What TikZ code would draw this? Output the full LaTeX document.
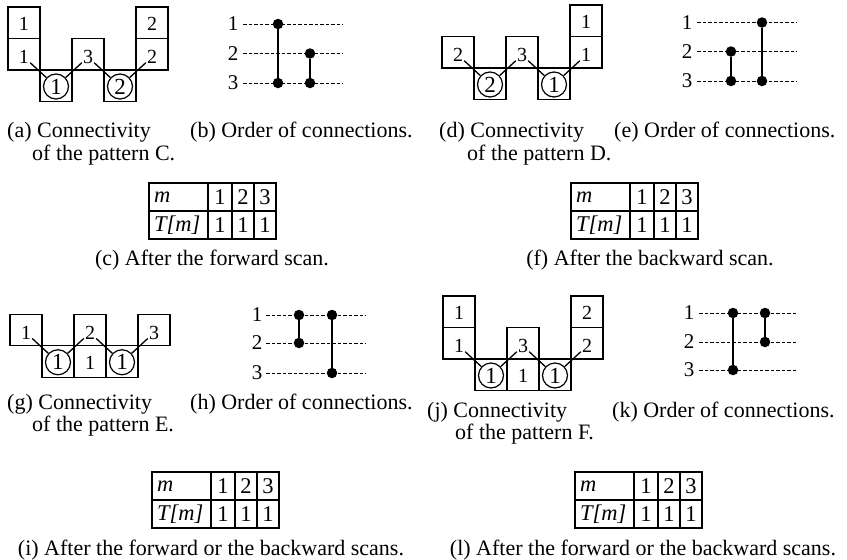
\documentclass[tikz,border=0pt]{standalone}
\usepackage{fontspec}
\setmainfont{Liberation Serif}
\begin{document}
\begin{tikzpicture}[x=1pt,y=-1pt,
  cellbox/.style={draw,line width=1.2pt,minimum width=32pt,minimum height=31.5pt,inner sep=0pt},
  celltext/.style={inner sep=1.0pt,font=\fontsize{20}{20}\selectfont},
  circ/.style={draw,circle,line width=1.2pt,minimum size=25pt,inner sep=0pt,font=\fontsize{23}{23}\selectfont},
  link/.style={line width=1.3pt},
  lab/.style={font=\fontsize{21}{21}\selectfont,inner sep=0pt},
  bigdot/.style={circle,fill,inner sep=0pt,minimum size=10.5pt},
  dline/.style={line width=0.8pt,dash pattern=on 3.5pt off 2pt},
  vline/.style={line width=1.9pt},
  captext/.style={font=\fontsize{22}{22}\selectfont,inner sep=0pt,anchor=base west},
  captextc/.style={font=\fontsize{22}{22}\selectfont,inner sep=0pt,anchor=base},
  tabline/.style={line width=1.2pt},
  tabtext/.style={font=\fontsize{22.5}{22.5}\selectfont,inner sep=0pt},
  scantable/.pic={
    \draw[tabline] (0,0) rectangle (127,56);
    \draw[tabline] (0,28) -- (127,28);
    \draw[tabline] (59,0) -- (59,56) (83,0) -- (83,56) (105,0) -- (105,56);
    \node[tabtext,anchor=west] (-m) at (5,14) {\textit{m}};
    \node[tabtext,anchor=west] (-T) at (5,42) {\textit{T[m]}};
    \node[tabtext] (-h1) at (71,14) {1};
    \node[tabtext] (-h2) at (94,14) {2};
    \node[tabtext] (-h3) at (116,14) {3};
    \node[tabtext] (-v1) at (71,42) {1};
    \node[tabtext] (-v2) at (94,42) {1};
    \node[tabtext] (-v3) at (116,42) {1};
  }
]
\useasboundingbox (0,0) rectangle (847,560);

% ---------- (a) pattern C ----------
\node[cellbox] (a-c0r0) at (24,22.75) {};
\node[cellbox] (a-c0r1) at (24,54.25) {};
\node[cellbox] (a-c1r2) at (56,85.75) {};
\node[cellbox] (a-c2r1) at (88,54.25) {};
\node[cellbox] (a-c3r2) at (120,85.75) {};
\node[cellbox] (a-c4r0) at (152,22.75) {};
\node[cellbox] (a-c4r1) at (152,54.25) {};
\node[celltext] (a-t00) at (24,24) {1};
\node[celltext] (a-t01) at (24,57) {1};
\node[celltext] (a-t21) at (88,57) {3};
\node[celltext] (a-t40) at (152,24) {2};
\node[celltext] (a-t41) at (152,57) {2};
\node[circ] (a-o1) at (56,86.5) {1};
\node[circ] (a-o3) at (120,86.5) {2};
\draw[link] (a-t01) -- (a-o1);
\draw[link] (a-t21) -- (a-o1);
\draw[link] (a-t21) -- (a-o3);
\draw[link] (a-t41) -- (a-o3);

% ---------- (d) pattern D ----------
\begin{scope}[shift={(434,-2)}]
\node[cellbox] (d-c0r1) at (24,54.25) {};
\node[cellbox] (d-c1r2) at (56,85.75) {};
\node[cellbox] (d-c2r1) at (88,54.25) {};
\node[cellbox] (d-c3r2) at (120,85.75) {};
\node[cellbox] (d-c4r0) at (152,22.75) {};
\node[cellbox] (d-c4r1) at (152,54.25) {};
\node[celltext] (d-t01) at (24,57) {2};
\node[celltext] (d-t21) at (88,57) {3};
\node[celltext] (d-t40) at (152,24) {1};
\node[celltext] (d-t41) at (152,57) {1};
\node[circ] (d-o1) at (56,86.5) {2};
\node[circ] (d-o3) at (120,86.5) {1};
\draw[link] (d-t01) -- (d-o1);
\draw[link] (d-t21) -- (d-o1);
\draw[link] (d-t21) -- (d-o3);
\draw[link] (d-t41) -- (d-o3);
\end{scope}

% ---------- (g) pattern E ----------
\begin{scope}[shift={(2,275.75)}]
\node[cellbox] (g-c0r1) at (24,54.25) {};
\node[cellbox] (g-c1r2) at (56,85.75) {};
\node[cellbox] (g-c2r1) at (88,54.25) {};
\node[cellbox] (g-c2r2) at (88,85.75) {};
\node[cellbox] (g-c3r2) at (120,85.75) {};
\node[cellbox] (g-c4r1) at (152,54.25) {};
\node[celltext] (g-t01) at (24,57) {1};
\node[celltext] (g-t21) at (88,57) {2};
\node[celltext] (g-t22) at (88,87) {1};
\node[celltext] (g-t41) at (152,57) {3};
\node[circ] (g-o1) at (56,86.5) {1};
\node[circ] (g-o3) at (120,86.5) {1};
\draw[link] (g-t01) -- (g-o1);
\draw[link] (g-t21) -- (g-o1);
\draw[link] (g-t21) -- (g-o3);
\draw[link] (g-t41) -- (g-o3);
\end{scope}

% ---------- (j) pattern F ----------
\begin{scope}[shift={(435,289)}]
\node[cellbox] (j-c0r0) at (24,22.75) {};
\node[cellbox] (j-c0r1) at (24,54.25) {};
\node[cellbox] (j-c1r2) at (56,85.75) {};
\node[cellbox] (j-c2r1) at (88,54.25) {};
\node[cellbox] (j-c2r2) at (88,85.75) {};
\node[cellbox] (j-c3r2) at (120,85.75) {};
\node[cellbox] (j-c4r0) at (152,22.75) {};
\node[cellbox] (j-c4r1) at (152,54.25) {};
\node[celltext] (j-t00) at (24,24) {1};
\node[celltext] (j-t01) at (24,57) {1};
\node[celltext] (j-t21) at (88,57) {3};
\node[celltext] (j-t22) at (88,87) {1};
\node[celltext] (j-t40) at (152,24) {2};
\node[celltext] (j-t41) at (152,57) {2};
\node[circ] (j-o1) at (56,86.5) {1};
\node[circ] (j-o3) at (120,86.5) {1};
\draw[link] (j-t01) -- (j-o1);
\draw[link] (j-t21) -- (j-o1);
\draw[link] (j-t21) -- (j-o3);
\draw[link] (j-t41) -- (j-o3);
\end{scope}

% ---------- (b) order ----------
\node[lab] (b-l1) at (233,24) {1};
\node[lab] (b-l2) at (233,53.5) {2};
\node[lab] (b-l3) at (233,83) {3};
\coordinate (b-s1) at (243,24);   \coordinate (b-e1) at (343,24);
\coordinate (b-s2) at (243,53.5); \coordinate (b-e2) at (343,53.5);
\coordinate (b-s3) at (243,83);   \coordinate (b-e3) at (343,83);
\draw[dline] (b-s1) -- (b-e1);
\draw[dline] (b-s2) -- (b-e2);
\draw[dline] (b-s3) -- (b-e3);
\node[bigdot] (b-p1) at (278,24) {};
\node[bigdot] (b-p2) at (278,83) {};
\node[bigdot] (b-q1) at (310,53.5) {};
\node[bigdot] (b-q2) at (310,83) {};
\draw[vline] (b-p1) -- (b-p2);
\draw[vline] (b-q1) -- (b-q2);

% ---------- (e) order ----------
\node[lab] (e-l1) at (687,22.5) {1};
\node[lab] (e-l2) at (687,51.5) {2};
\node[lab] (e-l3) at (687,81) {3};
\coordinate (e-s1) at (697,22.5); \coordinate (e-e1) at (797,22.5);
\coordinate (e-s2) at (697,51.5); \coordinate (e-e2) at (797,51.5);
\coordinate (e-s3) at (697,81);   \coordinate (e-e3) at (797,81);
\draw[dline] (e-s1) -- (e-e1);
\draw[dline] (e-s2) -- (e-e2);
\draw[dline] (e-s3) -- (e-e3);
\node[bigdot] (e-p1) at (731,51.5) {};
\node[bigdot] (e-p2) at (731,81) {};
\node[bigdot] (e-q1) at (762,22.5) {};
\node[bigdot] (e-q2) at (762,81) {};
\draw[vline] (e-p1) -- (e-p2);
\draw[vline] (e-q1) -- (e-q2);

% ---------- (h) order ----------
\node[lab] (h-l1) at (257,315) {1};
\node[lab] (h-l2) at (257,343) {2};
\node[lab] (h-l3) at (257,373) {3};
\coordinate (h-s1) at (266,315); \coordinate (h-e1) at (366,315);
\coordinate (h-s2) at (266,343); \coordinate (h-e2) at (366,343);
\coordinate (h-s3) at (266,373); \coordinate (h-e3) at (366,373);
\draw[dline] (h-s1) -- (h-e1);
\draw[dline] (h-s2) -- (h-e2);
\draw[dline] (h-s3) -- (h-e3);
\node[bigdot] (h-p1) at (299,315) {};
\node[bigdot] (h-p2) at (299,343) {};
\node[bigdot] (h-q1) at (332,315) {};
\node[bigdot] (h-q2) at (332,373) {};
\draw[vline] (h-p1) -- (h-p2);
\draw[vline] (h-q1) -- (h-q2);

% ---------- (k) order ----------
\node[lab] (k-l1) at (689,313) {1};
\node[lab] (k-l2) at (689,342) {2};
\node[lab] (k-l3) at (689,370) {3};
\coordinate (k-s1) at (699,313); \coordinate (k-e1) at (798,313);
\coordinate (k-s2) at (699,342); \coordinate (k-e2) at (798,342);
\coordinate (k-s3) at (699,370); \coordinate (k-e3) at (798,370);
\draw[dline] (k-s1) -- (k-e1);
\draw[dline] (k-s2) -- (k-e2);
\draw[dline] (k-s3) -- (k-e3);
\node[bigdot] (k-p1) at (733,313) {};
\node[bigdot] (k-p2) at (733,370) {};
\node[bigdot] (k-q1) at (765,313) {};
\node[bigdot] (k-q2) at (765,342) {};
\draw[vline] (k-p1) -- (k-p2);
\draw[vline] (k-q1) -- (k-q2);

% ---------- tables ----------
\pic (tc) at (149,183) {scantable};
\pic (tf) at (571,183) {scantable};
\pic (ti) at (152,472) {scantable};
\pic (tl) at (575,472) {scantable};

% ---------- captions ----------
\node[captext] (cap-a1) at (7,137) {(a) Connectivity};
\node[captext] (cap-a2) at (32,160) {of the pattern C.};
\node[captext] (cap-b) at (190,137) {(b) Order of connections.};
\node[captext] (cap-d1) at (439,137) {(d) Connectivity};
\node[captext] (cap-d2) at (467,160) {of the pattern D.};
\node[captext] (cap-e) at (614,137) {(e) Order of connections.};
\node[captextc] (cap-c) at (212,265) {(c) After the forward scan.};
\node[captextc] (cap-f) at (650,265) {(f) After the backward scan.};
\node[captext] (cap-g1) at (7,409) {(g) Connectivity};
\node[captext] (cap-g2) at (32,431) {of the pattern E.};
\node[captext] (cap-h) at (190,409) {(h) Order of connections.};
\node[captext] (cap-j1) at (427,417) {(j) Connectivity};
\node[captext] (cap-j2) at (455,439) {of the pattern F.};
\node[captext] (cap-k) at (612,417) {(k) Order of connections.};
\node[captextc] (cap-i) at (211,555) {(i) After the forward or the backward scans.};
\node[captextc] (cap-l) at (643,555) {(l) After the forward or the backward scans.};
\end{tikzpicture}
\end{document}
